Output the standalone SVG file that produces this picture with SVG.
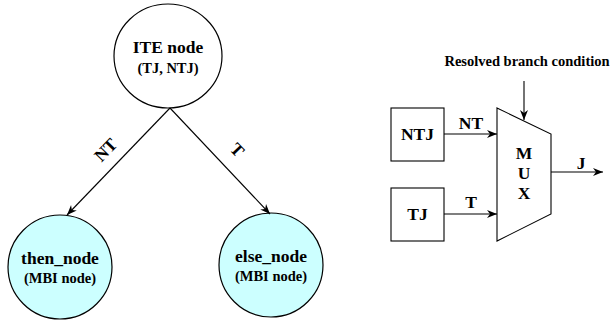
<svg xmlns="http://www.w3.org/2000/svg" width="611" height="322" viewBox="0 0 611 322">
<style>
text{font-family:"Liberation Serif","Times New Roman",serif;font-weight:bold;fill:#000;text-anchor:middle}
.t{font-size:17.5px}
.s{font-size:14.5px}
.c{stroke:#000;stroke-width:1.2;fill:#fff}
.cy{fill:#CCFFFF}
.ln{stroke:#000;stroke-width:1.1;fill:none;marker-end:url(#ah)}
.b{stroke:#000;stroke-width:1.1;fill:#fff}
</style>
<defs>
<marker id="ah" viewBox="0 0 10 10" refX="10" refY="5" markerWidth="10" markerHeight="10" markerUnits="userSpaceOnUse" orient="auto">
<path d="M0,1 L10,5 L0,9 L3,5 Z" fill="#000"/>
</marker>
</defs>
<g id="ite">
<ellipse class="c" cx="168" cy="56" rx="54" ry="52"/>
<text class="t" x="168" y="53">ITE node</text>
<text class="s" x="168" y="73">(TJ, NTJ)</text>
</g>
<g id="then_node">
<circle class="c cy" cx="60" cy="267" r="52"/>
<text class="t" x="60" y="264">then_node</text>
<text class="s" x="60" y="283">(MBI node)</text>
</g>
<g id="else_node">
<circle class="c cy" cx="271" cy="265" r="52"/>
<text class="t" x="271" y="262">else_node</text>
<text class="s" x="271" y="281">(MBI node)</text>
</g>
<g id="ntj">
<rect class="b" x="391" y="108" width="53" height="53"/>
<text class="t" x="417.5" y="140">NTJ</text>
</g>
<g id="tj">
<rect class="b" x="391" y="188" width="53" height="53"/>
<text class="t" x="417.5" y="220">TJ</text>
</g>
<g id="mux">
<path class="b" d="M497,108 L551,134 L551,214 L497,241 Z"/>
<text class="t" x="524" y="159">M</text>
<text class="t" x="524" y="179">U</text>
<text class="t" x="524" y="199">X</text>
</g>
<g id="connectors">
<line class="ln" x1="170" y1="108" x2="67" y2="215"/>
<line class="ln" x1="170" y1="108" x2="270" y2="214"/>
<text class="t" transform="translate(110,154) rotate(-46)">NT</text>
<text class="t" transform="translate(233,154) rotate(46)">T</text>
<line class="ln" x1="444" y1="134" x2="497" y2="134"/>
<line class="ln" x1="444" y1="214" x2="497" y2="214"/>
<text class="t" x="471" y="129">NT</text>
<text class="t" x="471" y="208">T</text>
<line class="ln" x1="524" y1="81" x2="524" y2="120"/>
<text class="s" x="527" y="66">Resolved branch condition</text>
<line class="ln" x1="551" y1="172" x2="603" y2="172"/>
<text class="t" x="581" y="169">J</text>
</g>
</svg>
